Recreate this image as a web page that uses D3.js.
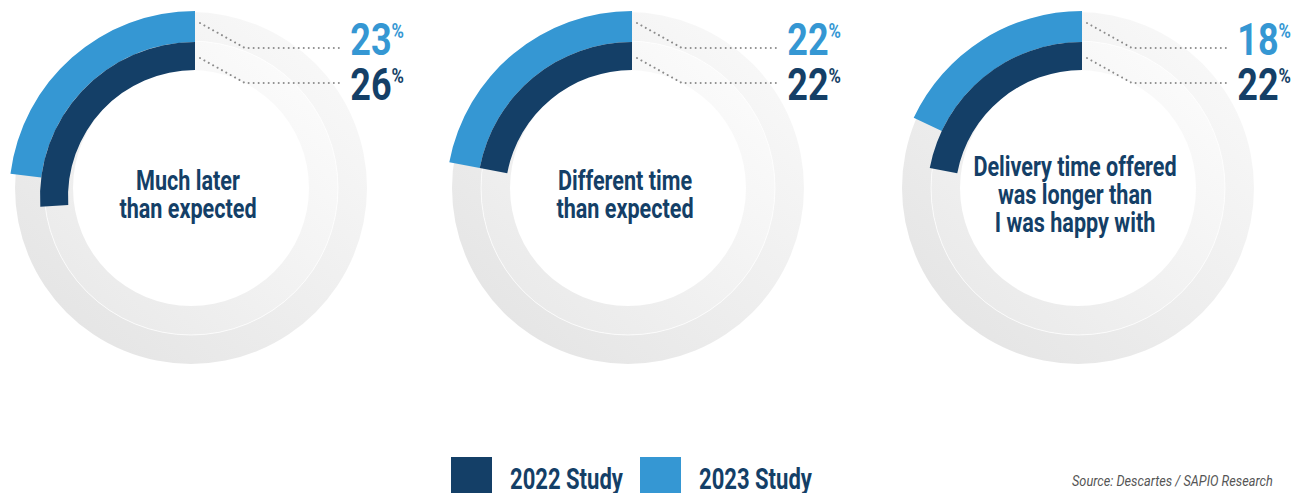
<html><head>
  <script src="https://cdn.jsdelivr.net/npm/d3@7"></script>
  <style>
    body { margin:0; background:#fff; }
    text { font-family: Roboto, "Noto Sans", sans-serif; }
  </style>
</head>
<body>
  <svg id="chart" width="1302" height="493"></svg>
  <script>
    // data
    const categories = [
      ["Much later", "than expected"],
      ["Different time", "than expected"],
      ["Delivery time offered", "was longer than", "I was happy with"]
    ];
    const study2022 = [26, 22, 22];
    const study2023 = [23, 22, 18];
    const years = ["2022 Study", "2023 Study"];
    const source = "Source: Descartes / SAPIO Research";

    // layout
    const centersX = [195, 632, 1082];
    const cy = 197;
    const dark = "#143f67", blue = "#3597d3";

    let svg = d3.select("svg#chart");

    let defs = svg.append("defs");
    let g1 = defs.append("linearGradient").attr("id","gOuter")
                 .attr("x1","85%").attr("y1","10%").attr("x2","15%").attr("y2","90%");
    g1.append("stop").attr("offset","0%").attr("stop-color","#f8f8f8");
    g1.append("stop").attr("offset","100%").attr("stop-color","#e5e5e5");
    let g2 = defs.append("linearGradient").attr("id","gInner")
                 .attr("x1","85%").attr("y1","10%").attr("x2","15%").attr("y2","90%");
    g2.append("stop").attr("offset","0%").attr("stop-color","#fbfbfb");
    g2.append("stop").attr("offset","100%").attr("stop-color","#eaeaea");

    let angle = d3.scaleLinear().domain([0, 100]).range([0, -2 * Math.PI]);

    // grey track sits a little up-left of the coloured rings and is a bit smaller
    let trackOuter = d3.arc().innerRadius(147).outerRadius(176);
    let trackInner = d3.arc().innerRadius(118).outerRadius(147);
    let outerArc = d3.arc().innerRadius(155).outerRadius(186);
    let innerArc = d3.arc().innerRadius(127).outerRadius(155);

    categories.forEach((lines, i) => {
      let cx = centersX[i];

      let track = svg.append("g").attr("transform", `translate(${cx - 4},${cy - 9})`);
      track.append("path")
       .attr("d", trackOuter({startAngle: 0, endAngle: 2 * Math.PI}))
       .attr("fill", "url(#gOuter)");
      track.append("path")
       .attr("d", trackInner({startAngle: 0, endAngle: 2 * Math.PI}))
       .attr("fill", "url(#gInner)");
      track.append("circle").attr("r", 147)
       .attr("fill", "none").attr("stroke", "#ffffff").attr("stroke-width", 1).attr("opacity", 0.7);

      let g = svg.append("g").attr("transform", `translate(${cx},${cy})`);

      // value arcs, counter-clockwise from the top
      g.append("path")
       .attr("d", outerArc({startAngle: 0, endAngle: angle(study2023[i])}))
       .attr("fill", blue);
      g.append("path")
       .attr("d", innerArc({startAngle: 0, endAngle: angle(study2022[i])}))
       .attr("fill", dark);

      // dotted leader lines
      [-174, -139].forEach(y => {
        g.append("path")
         .attr("d", `M5,${y} L50,${y + 25} L148,${y + 25}`)
         .attr("fill", "none")
         .attr("stroke", "#8c8c8c")
         .attr("stroke-width", 2)
         .attr("stroke-linecap", "round")
         .attr("stroke-dasharray", "0.01 5");
      });

      // percentages
      [[study2023[i], blue, -142], [study2022[i], dark, -97]].forEach(([v, col, y]) => {
        let t = g.append("g").attr("transform", `translate(209,${y}) scale(0.8,1)`)
                 .append("text")
                 .attr("text-anchor", "end")
                 .style("font-weight", 700)
                 .attr("fill", col);
        t.append("tspan").text(v).style("font-size", "45px");
        t.append("tspan").text("%").style("font-size", "21px").attr("dy", -17);
      });

      // centre label
      let n = lines.length;
      lines.forEach((s, k) => {
        g.append("g")
         .attr("transform", `translate(-7,${(k - (n - 1) / 2) * 28 + 7}) scale(0.8,1)`)
         .append("text")
         .text(s)
         .attr("text-anchor", "middle")
         .style("font-size", "27px")
         .style("font-weight", 700)
         .attr("fill", dark);
      });
    });

    // legend
    const legendX = [451, 640];
    years.forEach((y, i) => {
      svg.append("rect")
         .attr("x", legendX[i]).attr("y", 457)
         .attr("width", 41).attr("height", 41)
         .attr("fill", i == 0 ? dark : blue);
      svg.append("g")
         .attr("transform", `translate(${legendX[i] + 59},489) scale(0.735,1)`)
         .append("text")
         .text(y)
         .style("font-size", "30px")
         .style("font-weight", 700)
         .attr("fill", dark);
    });

    svg.append("g")
       .attr("transform", "translate(1072,486) scale(0.91,1)")
       .append("text")
       .text(source)
       .style("font-size", "14px")
       .style("font-style", "italic")
       .attr("fill", "#555");
  </script>
</body>
</html>
